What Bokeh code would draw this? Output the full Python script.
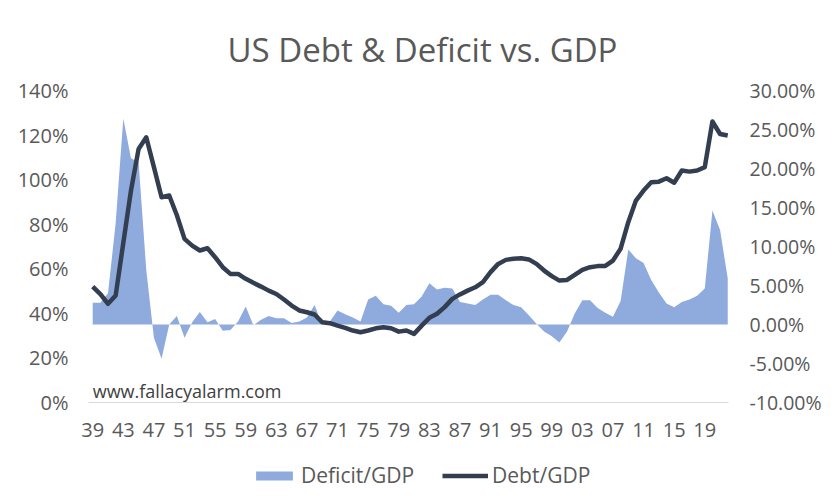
from bokeh.plotting import figure
from bokeh.layouts import column
from bokeh.models import (Range1d, LinearAxis, FixedTicker, PrintfTickFormatter,
                          Legend, LegendItem, Label, ColumnDataSource)
from bokeh.embed import file_html
from bokeh.resources import INLINE

years = list(range(1939, 2023))
debt_gdp = [52.0, 48.6, 44.3, 48.0, 71.6, 95.1, 113.8, 119.0, 105.6, 92.1,
            92.9, 84.0, 73.4, 70.4, 68.2, 69.2, 65.2, 60.7, 57.7, 57.7,
            55.5, 53.7, 52.0, 50.2, 48.7, 46.2, 43.5, 41.3, 40.5, 39.5,
            36.0, 35.6, 34.5, 33.5, 32.3, 31.5, 32.3, 33.3, 33.8, 33.3,
            31.8, 32.3, 30.8, 34.5, 38.0, 39.8, 42.8, 46.5, 48.5, 50.2,
            51.7, 54.0, 58.5, 62.2, 64.0, 64.5, 64.7, 64.2, 62.2, 59.2,
            56.7, 54.7, 55.0, 57.3, 59.5, 60.7, 61.2, 61.3, 63.7, 69.0,
            80.9, 90.6, 95.1, 98.8, 99.1, 100.6, 98.6, 104.1, 103.6, 104.1,
            105.6, 126.1, 120.5, 119.8]
deficit_gdp = [2.8, 2.8, 4.0, 13.0, 26.4, 21.3, 20.8, 7.0, -1.7, -4.4,
               0.0, 1.1, -1.7, 0.3, 1.6, 0.3, 0.7, -0.8, -0.7, 0.4,
               2.3, -0.1, 0.6, 1.1, 0.8, 0.8, 0.2, 0.4, 0.9, 2.5,
               -0.1, 0.4, 1.8, 1.3, 0.9, 0.4, 3.2, 3.7, 2.6, 2.4,
               1.5, 2.5, 2.6, 3.6, 5.3, 4.5, 4.7, 4.6, 2.9, 2.7,
               2.5, 3.2, 3.8, 3.8, 3.1, 2.5, 2.2, 1.2, 0.1, -0.9,
               -1.5, -2.3, -0.9, 1.4, 3.1, 3.1, 2.1, 1.5, 1.0, 3.0,
               9.6, 8.5, 7.9, 5.7, 4.1, 2.7, 2.2, 2.9, 3.2, 3.7,
               4.6, 14.6, 12.1, 5.9]
x_ticks = list(range(1939, 2020, 4))
x_tick_labels = {t: "%02d" % (t % 100) for t in x_ticks}
left_ticks = [0, 20, 40, 60, 80, 100, 120, 140]
right_ticks = [-10, -5, 0, 5, 10, 15, 20, 25, 30]
series_names = ["Deficit/GDP", "Debt/GDP"]

FONT = "Open Sans"
TXT = "#595959"
AREA = "#8FAADC"
LINE = "#333F50"

src = ColumnDataSource(dict(year=years, debt=debt_gdp, deficit=deficit_gdp,
                            zero=[0] * len(years)))

p = figure(width=824, height=455, output_backend="svg", toolbar_location=None,
           x_range=Range1d(1938.45, 2022.1), y_range=Range1d(0, 140),
           min_border_left=88, min_border_right=92, min_border_top=90,
           min_border_bottom=53)
p.extra_y_ranges = {"right": Range1d(-10, 30)}
p.outline_line_color = None
p.grid.visible = False
p.background_fill_color = "white"
p.border_fill_color = "white"

p.title.text = "US Debt & Deficit vs. GDP"
p.title.align = "left"
p.title.vertical_align = "top"
p.title.text_font = FONT
p.title.text_font_size = "33px"
p.title.text_font_style = "normal"
p.title.text_color = TXT
p.title.offset = 139
p.title.standoff = 34

area = p.varea(x="year", y1="zero", y2="deficit", source=src, fill_color=AREA,
               y_range_name="right")
line = p.line(x="year", y="debt", source=src, line_color=LINE, line_width=4.5,
              line_join="round")

# x axis
xa = p.xaxis[0]
xa.ticker = FixedTicker(ticks=x_ticks)
xa.major_label_overrides = x_tick_labels
xa.axis_line_color = "#d9d9d9"
xa.major_tick_line_color = None
xa.minor_tick_line_color = None
xa.major_tick_out = 0
xa.major_tick_in = 0
xa.major_label_standoff = 20
xa.major_label_text_font = FONT
xa.major_label_text_font_size = "20px"
xa.major_label_text_color = TXT

ya = p.yaxis[0]
ya.ticker = FixedTicker(ticks=left_ticks)
ya.formatter = PrintfTickFormatter(format="%d%%")
ya.axis_line_color = None
ya.major_tick_line_color = None
ya.minor_tick_line_color = None
ya.major_tick_out = 0
ya.major_tick_in = 0
ya.major_label_standoff = 20
ya.major_label_text_font = FONT
ya.major_label_text_font_size = "20px"
ya.major_label_text_color = TXT

ra = LinearAxis(y_range_name="right", ticker=FixedTicker(ticks=right_ticks),
                formatter=PrintfTickFormatter(format="%.2f%%"))
ra.axis_line_color = None
ra.major_tick_line_color = None
ra.minor_tick_line_color = None
ra.major_tick_out = 0
ra.major_tick_in = 0
ra.major_label_standoff = 21
ra.major_label_text_font = FONT
ra.major_label_text_font_size = "19.5px"
ra.major_label_text_color = TXT
p.add_layout(ra, "right")

wm = Label(x=1939, y=5.0, text="www.fallacyalarm.com", text_font=FONT,
           text_font_size="18px", text_color="#404040", text_baseline="middle")
p.add_layout(wm)

# legend strip (separate small figure; swatch renderers hold one point outside its ranges)
pl = figure(width=824, height=38, output_backend="svg", toolbar_location=None,
            x_range=Range1d(0, 1), y_range=Range1d(0, 1),
            x_axis_type=None, y_axis_type=None, min_border=0)
pl.outline_line_color = None
pl.grid.visible = False
la = pl.varea(x=[5, 6], y1=[5, 5], y2=[6, 6], fill_color=AREA)
ll = pl.line(x=[5, 6], y=[5, 5], line_color=LINE, line_width=4.5)
legend = Legend(items=[LegendItem(label=series_names[0], renderers=[la]),
                       LegendItem(label=series_names[1], renderers=[ll])],
                orientation="horizontal", location=(163, 4))
legend.label_text_font = FONT
legend.label_text_font_size = "21px"
legend.label_text_color = TXT
legend.glyph_width = 46
legend.glyph_height = 11
legend.label_standoff = 4
legend.spacing = 28
legend.border_line_color = None
legend.background_fill_alpha = 0
legend.margin = 0
legend.padding = 0
pl.add_layout(legend)

layout = column(p, pl, spacing=0)
open("out.html", "w").write(file_html(layout, INLINE))
